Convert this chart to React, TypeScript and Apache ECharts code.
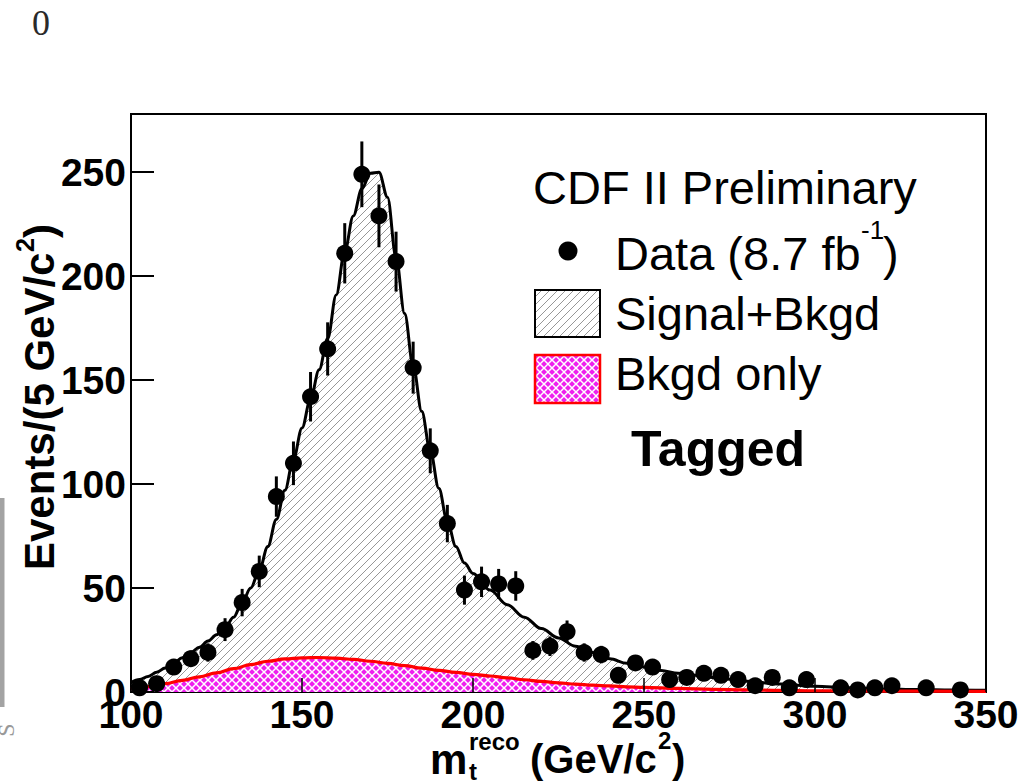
import React, { useEffect, useRef } from "react";
import * as echarts from "echarts";

// Reconstructed top-quark mass distribution (tagged sample), 5 GeV/c^2 bins
const binCenters = [
  102.5, 107.5, 112.5, 117.5, 122.5, 127.5, 132.5, 137.5, 142.5, 147.5,
  152.5, 157.5, 162.5, 167.5, 172.5, 177.5, 182.5, 187.5, 192.5, 197.5,
  202.5, 207.5, 212.5, 217.5, 222.5, 227.5, 232.5, 237.5, 242.5, 247.5,
  252.5, 257.5, 262.5, 267.5, 272.5, 277.5, 282.5, 287.5, 292.5, 297.5,
  307.5, 312.5, 317.5, 322.5, 332.5, 342.5,
];
const eventCounts = [
  2, 4, 12, 16, 19, 30, 43, 58, 94, 110,
  142, 165, 211, 249, 229, 207, 156, 116, 81, 49,
  53, 52, 51, 20, 22, 29, 19, 18, 8, 14,
  12, 6, 7, 9, 8, 6, 3, 7, 2, 6,
  2, 1, 2, 3, 2, 1,
];
const countErrors = [
  1.4, 2, 3.5, 4, 4.4, 5.5, 6.6, 7.6, 9.7, 10.5,
  11.9, 12.8, 14.5, 15.8, 15.1, 14.4, 12.5, 10.8, 9, 7,
  7.3, 7.2, 7.1, 4.5, 4.7, 5.4, 4.4, 4.2, 2.8, 3.7,
  3.5, 2.4, 2.6, 3, 2.8, 2.4, 1.7, 2.6, 1.4, 2.4,
  1.4, 1, 1.4, 1.7, 1.4, 1,
];

// Signal + background fit
const fitMass = [
  100, 102.5, 105, 107.5, 110, 112.5, 115, 117.5, 120, 122.5,
  125, 127.5, 130, 132.5, 135, 137.5, 140, 142.5, 145, 147.5,
  150, 152.5, 155, 157.5, 160, 162.5, 165, 167.5, 170, 172.5,
  175, 177.5, 180, 182.5, 185, 187.5, 190, 192.5, 195, 197.5,
  200, 205, 210, 215, 220, 225, 230, 235, 240, 245,
  250, 255, 260, 270, 280, 290, 300, 310, 320, 330, 340, 350,
];
const fitSignalPlusBkgd = [
  4.5, 6, 7.5, 9.5, 11.5, 14, 16.5, 19, 21.5, 24.5,
  27.5, 31, 36, 43, 50, 58.5, 70, 83, 97, 112,
  127, 141, 155, 170, 191, 212, 229, 242, 249.5, 250,
  238, 209, 182, 157, 135, 116, 98, 82, 70, 62,
  57, 49, 42, 36, 30.5, 26, 22, 19, 16, 13.8,
  12, 10.4, 9, 7, 5.2, 3.8, 2.8, 2, 1.5, 1.2, 1, 0.8,
];

// Background-only template
const bkgdMass = [
  100, 105, 110, 115, 120, 125, 130, 135, 140, 145,
  150, 155, 160, 165, 170, 175, 180, 185, 190, 195,
  200, 205, 210, 215, 220, 225, 230, 235, 240, 245,
  250, 260, 270, 280, 290, 300, 320, 350,
];
const bkgdOnly = [
  1.5, 2.6, 4, 5.6, 7.3, 9.2, 11.2, 13.2, 14.8, 15.9,
  16.4, 16.6, 16.3, 15.7, 14.8, 13.8, 12.7, 11.5, 10.4, 9.4,
  8.5, 7.7, 6.8, 5.9, 5.1, 4.4, 3.8, 3.3, 2.9, 2.5,
  2.2, 1.7, 1.3, 1.0, 0.8, 0.6, 0.45, 0.3,
];

const xRange = [100, 350];
const yRange = [0, 278];
const tickStep = 50;

const SANS = '"Liberation Sans", Arial, Helvetica, sans-serif';
const SERIF = '"Liberation Serif", "Times New Roman", serif';

function hatchCanvas(): HTMLCanvasElement {
  const p = 8;
  const c = document.createElement("canvas");
  c.width = p;
  c.height = p;
  const ctx = c.getContext("2d")!;
  ctx.strokeStyle = "#6a6a6a";
  ctx.lineWidth = 0.7;
  for (let k = -1; k <= 1; k++) {
    ctx.beginPath();
    ctx.moveTo(k * p, p);
    ctx.lineTo(k * p + p, 0);
    ctx.stroke();
  }
  return c;
}

function crossCanvas(): HTMLCanvasElement {
  const p = 8;
  const c = document.createElement("canvas");
  c.width = p;
  c.height = p;
  const ctx = c.getContext("2d")!;
  ctx.fillStyle = "#ee1fee";
  ctx.fillRect(0, 0, p, p);
  ctx.strokeStyle = "#ffffff";
  ctx.lineWidth = 1.5;
  for (let k = -1; k <= 1; k++) {
    ctx.beginPath();
    ctx.moveTo(k * p, p);
    ctx.lineTo(k * p + p, 0);
    ctx.stroke();
    ctx.beginPath();
    ctx.moveTo(k * p, 0);
    ctx.lineTo(k * p + p, p);
    ctx.stroke();
  }
  return c;
}

function txt(
  text: string,
  x: number,
  y: number,
  size: number,
  opts: { bold?: boolean; rotation?: number; color?: string; family?: string; align?: string } = {}
) {
  return {
    type: "text",
    x,
    y,
    rotation: opts.rotation || 0,
    z: 100,
    style: {
      text,
      fill: opts.color || "#000",
      fontSize: size,
      fontWeight: opts.bold ? "bold" : "normal",
      fontFamily: opts.family || SANS,
      align: opts.align || "left",
      verticalAlign: "middle",
    },
  };
}

export default function App() {
  const ref = useRef<HTMLDivElement>(null);

  useEffect(() => {
    if (!ref.current) return;
    const chart = echarts.init(ref.current, null, { renderer: "svg" });

    const hc = hatchCanvas();
    const cc = crossCanvas();
    const hatch: any = { image: hc, repeat: "repeat", imageWidth: hc.width, imageHeight: hc.height };
    const cross: any = { image: cc, repeat: "repeat", imageWidth: cc.width, imageHeight: cc.height };

    const points = binCenters.map((x, i) => [x, eventCounts[i], countErrors[i]]);

    const axisLabel = {
      color: "#000",
      fontSize: 39,
      fontWeight: "bold",
      fontFamily: SANS,
    };

    const option: any = {
      animation: false,
      backgroundColor: "#ffffff",
      grid: {
        left: 131,
        right: 39,
        top: 114,
        bottom: 89,
        show: true,
        borderColor: "#000",
        borderWidth: 2,
        backgroundColor: "transparent",
      },
      xAxis: {
        type: "value",
        min: xRange[0],
        max: xRange[1],
        interval: tickStep,
        z: 10,
        axisLine: { show: false },
        axisTick: { inside: true, length: 14, lineStyle: { color: "#000", width: 1.5 } },
        splitLine: { show: false },
        axisLabel: { ...axisLabel, margin: 3 },
      },
      yAxis: {
        type: "value",
        min: yRange[0],
        max: yRange[1],
        interval: tickStep,
        z: 10,
        axisLine: { show: false },
        axisTick: { inside: true, length: 23, lineStyle: { color: "#000", width: 2 } },
        splitLine: { show: false },
        axisLabel: {
          ...axisLabel,
          margin: 5,
          showMaxLabel: false,
          formatter: (v: number) => (v % tickStep === 0 ? String(v) : ""),
        },
      },
      series: [
        {
          type: "line",
          name: "Signal+Bkgd",
          data: fitMass.map((x, i) => [x, fitSignalPlusBkgd[i]]),
          smooth: 0.35,
          smoothMonotone: "x",
          showSymbol: false,
          symbol: "none",
          lineStyle: { color: "#000", width: 3 },
          areaStyle: { color: hatch, opacity: 1 },
          z: 2,
        },
        {
          type: "line",
          name: "Bkgd only",
          data: bkgdMass.map((x, i) => [x, bkgdOnly[i]]),
          smooth: 0.4,
          smoothMonotone: "x",
          showSymbol: false,
          symbol: "none",
          lineStyle: { color: "#ff0000", width: 3.2 },
          areaStyle: { color: cross, opacity: 1 },
          z: 3,
        },
        {
          type: "custom",
          name: "errors",
          data: points,
          encode: { x: 0, y: 1 },
          z: 4,
          renderItem: (_params: any, api: any) => {
            const x = api.value(0);
            const y = api.value(1);
            const e = api.value(2);
            const top = api.coord([x, y + e]);
            const bot = api.coord([x, y - e]);
            return {
              type: "line",
              shape: { x1: top[0], y1: top[1], x2: bot[0], y2: bot[1] },
              style: { stroke: "#000", lineWidth: 3 },
            };
          },
        },
        {
          type: "scatter",
          name: "Data",
          data: points.map((p) => [p[0], p[1]]),
          symbol: "circle",
          symbolSize: 17,
          itemStyle: { color: "#000", opacity: 1 },
          z: 5,
        },
      ],
      graphic: [
        // stray glyphs at the page edges
        txt("0", 41, 23, 36, { family: SERIF, color: "#2a2a2a", align: "center" }),
        { type: "rect", z: 100, shape: { x: 0, y: 498, width: 4.5, height: 209 }, style: { fill: "#a3a3a3" } },
        txt("S", 6, 730, 24, { family: SERIF, color: "#999", align: "center", rotation: Math.PI / 2 }),

        // y-axis title
        txt("Events/(5 GeV/c", 39, 570, 42, { bold: true, rotation: Math.PI / 2 }),
        txt("2", 25, 252, 25, { bold: true, rotation: Math.PI / 2 }),
        txt(")", 39, 238, 42, { bold: true, rotation: Math.PI / 2 }),

        // x-axis title
        txt("m", 430, 759, 42, { bold: true }),
        txt("reco", 469, 741, 24, { bold: true }),
        txt("t", 469, 771, 24, { bold: true }),
        txt("(GeV/c", 530, 759, 40, { bold: true }),
        txt("2", 658, 740, 24, { bold: true }),
        txt(")", 672, 759, 40, { bold: true }),

        // legend
        txt("CDF II Preliminary", 533, 187, 47),
        { type: "circle", z: 100, shape: { cx: 568, cy: 251, r: 9.5 }, style: { fill: "#000" } },
        txt("Data (8.7 fb", 615, 253, 47),
        txt("-1", 861, 230, 26),
        txt(")", 883, 253, 47),
        {
          type: "rect",
          z: 100,
          shape: { x: 535, y: 290, width: 65, height: 47 },
          style: { fill: hatch, stroke: "#000", lineWidth: 2 },
        },
        txt("Signal+Bkgd", 615, 313, 47),
        {
          type: "rect",
          z: 100,
          shape: { x: 535, y: 355, width: 65, height: 48 },
          style: { fill: cross, stroke: "#ff0000", lineWidth: 2.5 },
        },
        txt("Bkgd only", 615, 373, 47),
        txt("Tagged", 631, 449, 50, { bold: true }),
      ],
    };

    chart.setOption(option);
    return () => chart.dispose();
  }, []);

  return (
    <div
      ref={ref}
      style={{ position: "absolute", left: 0, top: 0, width: 1025, height: 781, background: "#fff" }}
    />
  );
}
